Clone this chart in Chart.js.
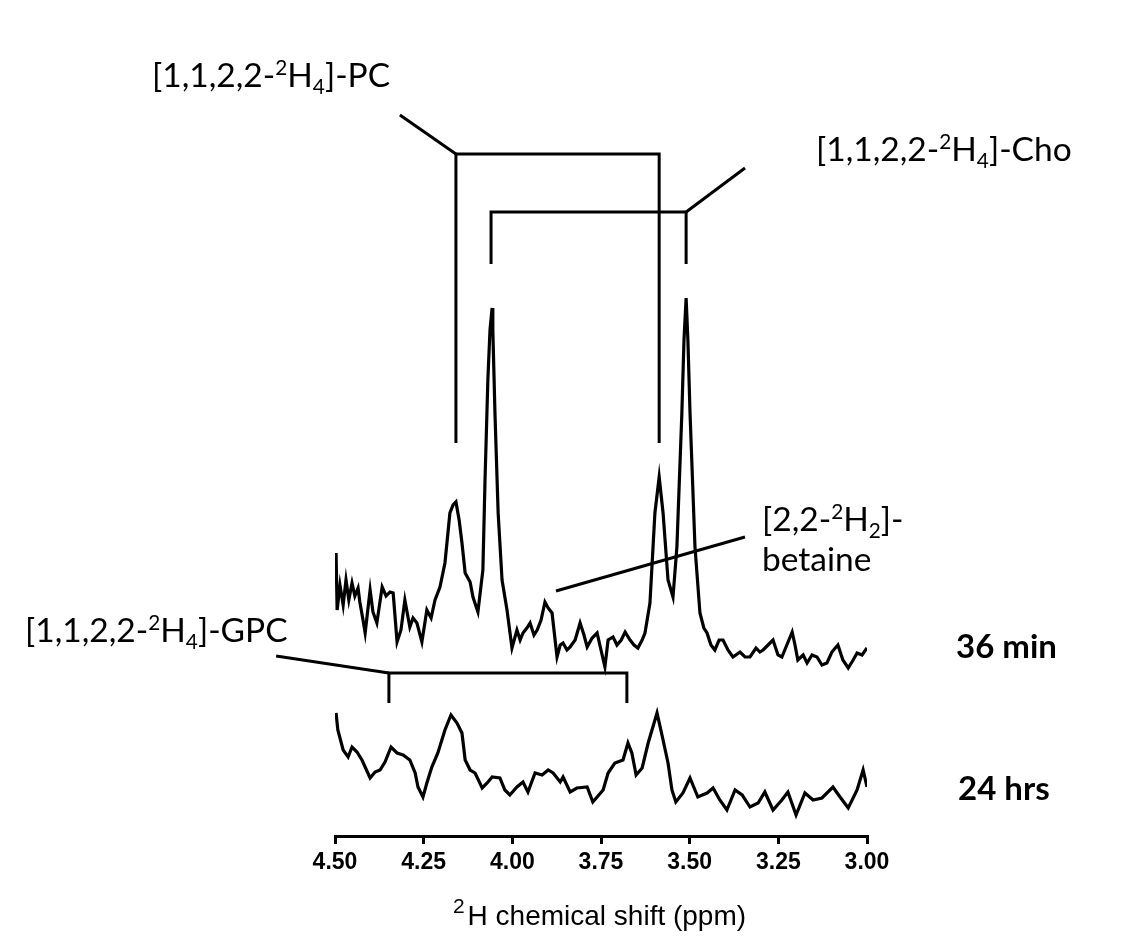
<!DOCTYPE html>
<html>
<head>
<meta charset="utf-8">
<script src="https://cdn.jsdelivr.net/npm/chart.js@4"></script>
<style>
  html, body { margin: 0; padding: 0; background: #fff; }
  #wrap { width: 1136px; height: 942px; }
</style>
</head>
<body>
<div id="wrap"><canvas id="nmr" width="1136" height="942"></canvas></div>
<script>
// 2H spectrum after 36 min (ppm / intensity, arbitrary units incl. vertical offset)
const shift36 = [4.497, 4.494, 4.486, 4.477, 4.469, 4.461, 4.452, 4.444, 4.435, 4.430, 4.421, 4.415, 4.401, 4.393, 4.382, 4.367, 4.356, 4.345, 4.336, 4.325,
  4.314, 4.303, 4.289, 4.280, 4.269, 4.255, 4.241, 4.229, 4.218, 4.204, 4.190, 4.176, 4.167, 4.159, 4.150, 4.142, 4.133, 4.119, 4.111, 4.097,
  4.083, 4.077, 4.069, 4.063, 4.057, 4.055, 4.049, 4.040, 4.029, 4.015, 4.001, 3.987, 3.978, 3.970, 3.959, 3.950, 3.939, 3.930, 3.919, 3.908,
  3.899, 3.888, 3.874, 3.865, 3.857, 3.846, 3.837, 3.823, 3.809, 3.798, 3.789, 3.775, 3.761, 3.750, 3.739, 3.730, 3.716, 3.705, 3.693, 3.682,
  3.668, 3.657, 3.646, 3.634, 3.626, 3.612, 3.598, 3.586, 3.575, 3.561, 3.547, 3.536, 3.522, 3.516, 3.510, 3.505, 3.499, 3.485, 3.471, 3.460,
  3.451, 3.440, 3.429, 3.417, 3.406, 3.392, 3.378, 3.358, 3.344, 3.330, 3.313, 3.302, 3.293, 3.279, 3.265, 3.251, 3.240, 3.226, 3.211, 3.203,
  3.195, 3.180, 3.169, 3.155, 3.141, 3.127, 3.113, 3.099, 3.082, 3.068, 3.053, 3.039, 3.028, 3.014, 3.000];
const signal36 = [283, 226, 251, 231, 256, 236, 253, 240, 248, 234, 216, 203, 246, 224, 213, 249, 240, 244, 243, 194,
  206, 236, 209, 218, 213, 194, 226, 218, 236, 249, 273, 323, 331, 334, 316, 293, 263, 254, 239, 224,
  266, 356, 456, 506, 528, 506, 423, 323, 256, 226, 188, 206, 196, 203, 208, 213, 201, 206, 216, 234,
  228, 223, 179, 191, 193, 186, 189, 196, 213, 201, 189, 198, 203, 186, 169, 196, 199, 191, 196, 204,
  196, 191, 188, 196, 203, 233, 323, 359, 323, 256, 239, 289, 423, 496, 538, 496, 423, 289, 223, 208,
  203, 191, 186, 196, 196, 186, 179, 184, 179, 179, 188, 184, 186, 191, 196, 181, 179, 191, 204, 191,
  176, 181, 173, 181, 179, 171, 173, 184, 191, 176, 168, 176, 183, 181, 188];

// 2H spectrum after 24 hrs
const shift24 = [4.497, 4.492, 4.477, 4.463, 4.452, 4.438, 4.424, 4.401, 4.387, 4.373, 4.359, 4.342, 4.325, 4.308, 4.289, 4.274, 4.266, 4.252, 4.241, 4.227,
  4.210, 4.190, 4.173, 4.156, 4.142, 4.133, 4.119, 4.105, 4.085, 4.071, 4.057, 4.035, 4.021, 4.007, 3.987, 3.970, 3.956, 3.936, 3.916, 3.899,
  3.885, 3.865, 3.857, 3.837, 3.818, 3.789, 3.773, 3.744, 3.730, 3.711, 3.688, 3.674, 3.663, 3.651, 3.634, 3.617, 3.592, 3.575, 3.561, 3.550,
  3.539, 3.519, 3.499, 3.477, 3.451, 3.434, 3.415, 3.395, 3.372, 3.352, 3.330, 3.307, 3.288, 3.265, 3.240, 3.223, 3.200, 3.175, 3.152, 3.127,
  3.096, 3.076, 3.053, 3.028, 3.011, 3.000];
const signal24 = [123, 106, 86, 79, 89, 84, 76, 58, 64, 66, 74, 89, 83, 81, 76, 63, 49, 39, 53, 69,
  83, 106, 121, 113, 103, 76, 66, 63, 48, 53, 59, 58, 46, 41, 49, 54, 44, 63, 61, 66,
  63, 54, 59, 44, 48, 49, 34, 46, 63, 73, 76, 93, 83, 61, 68, 93, 123, 96, 73, 46,
  34, 43, 58, 39, 43, 48, 36, 26, 46, 41, 29, 33, 44, 26, 36, 44, 21, 43, 36, 38,
  49, 39, 28, 46, 66, 49];

const xTicks = [4.50, 4.25, 4.00, 3.75, 3.50, 3.25, 3.00];

const LABEL_FONT = 'Lato, "Open Sans", sans-serif';
const AXIS_FONT = '"Liberation Sans", Arial, sans-serif';

// text with super/subscript parts: [text, 'sup'|'sub'|undefined]
function richText(ctx, parts, x, y, size, weight) {
  let cx = x;
  parts.forEach(([t, kind]) => {
    let s = size, dy = 0;
    if (kind === 'sup') { s = size * 0.62; dy = -size * 0.36; }
    if (kind === 'sub') { s = size * 0.62; dy = size * 0.2; }
    ctx.font = (weight || '') + ' ' + s + 'px ' + LABEL_FONT;
    ctx.fillText(t, cx, y + dy);
    cx += ctx.measureText(t).width;
  });
}

const annotations = {
  id: 'annotations',
  afterDraw(chart) {
    const ctx = chart.ctx;
    const X = v => chart.scales.x.getPixelForValue(v);
    const Y = v => chart.scales.y.getPixelForValue(v);
    ctx.save();
    ctx.strokeStyle = '#000';
    ctx.lineWidth = 3;
    ctx.lineCap = 'butt';
    const path = pts => {
      ctx.beginPath();
      pts.forEach(([a, b], i) => i ? ctx.lineTo(X(a), Y(b)) : ctx.moveTo(X(a), Y(b)));
      ctx.stroke();
    };
    // PC bracket
    path([[4.159, 393], [4.159, 682], [3.586, 682], [3.586, 393]]);
    path([[4.159, 682], [4.317, 721]]);
    // Cho bracket
    path([[4.060, 572], [4.060, 624], [3.510, 624], [3.510, 572]]);
    path([[3.510, 624], [3.344, 668]]);
    // betaine pointer
    path([[3.877, 245], [3.344, 299]]);
    // GPC bracket
    path([[4.348, 133], [4.348, 163], [3.677, 163], [3.677, 133]]);
    path([[4.348, 163], [4.666, 180]]);

    ctx.fillStyle = '#000';
    ctx.textBaseline = 'alphabetic';
    ctx.textAlign = 'left';
    richText(ctx, [['[1,1,2,2-'], ['2', 'sup'], ['H'], ['4', 'sub'], [']-PC']], 152, 87, 33.5);
    richText(ctx, [['[1,1,2,2-'], ['2', 'sup'], ['H'], ['4', 'sub'], [']-Cho']], 816, 161, 33.5);
    richText(ctx, [['[2,2-'], ['2', 'sup'], ['H'], ['2', 'sub'], [']-']], 762, 531, 33.5);
    richText(ctx, [['betaine']], 762, 571, 33.5);
    richText(ctx, [['[1,1,2,2-'], ['2', 'sup'], ['H'], ['4', 'sub'], [']-GPC']], 25, 642, 33.5);
    richText(ctx, [['36 min']], 956, 658, 33, 'bold');
    richText(ctx, [['24 hrs']], 958, 800, 33, 'bold');

    // axis title with superscript 2
    const rest = 'H chemical shift (ppm)';
    ctx.font = '21px ' + AXIS_FONT;
    const w2 = ctx.measureText('2').width;
    ctx.font = '28px ' + AXIS_FONT;
    const wr = ctx.measureText(rest).width;
    const cx = (chart.chartArea.left + chart.chartArea.right) / 2 - (w2 + wr) / 2 - 3;
    ctx.font = '21px ' + AXIS_FONT;
    ctx.fillText('2', cx, 913);
    ctx.font = '28px ' + AXIS_FONT;
    ctx.fillText(rest, cx + w2 + 3, 925);
    ctx.restore();
  }
};

new Chart(document.getElementById('nmr'), {
  type: 'line',
  data: {
    datasets: [
      {
        label: '36 min',
        data: shift36.map((v, i) => ({ x: v, y: signal36[i] })),
        borderColor: '#000',
        borderWidth: 3.2,
        pointRadius: 0,
        tension: 0,
        fill: false
      },
      {
        label: '24 hrs',
        data: shift24.map((v, i) => ({ x: v, y: signal24[i] })),
        borderColor: '#000',
        borderWidth: 3.2,
        pointRadius: 0,
        tension: 0,
        fill: false
      }
    ]
  },
  options: {
    responsive: false,
    animation: false,
    layout: { padding: { left: 335, right: 269, top: 36, bottom: 0 } },
    plugins: { legend: { display: false }, tooltip: { enabled: false } },
    scales: {
      x: {
        type: 'linear',
        min: 3.0,
        max: 4.5,
        reverse: true,
        afterBuildTicks: s => { s.ticks = xTicks.map(v => ({ value: v })); },
        afterFit: s => { s.height = 106; },
        grid: { display: true, drawOnChartArea: false, drawTicks: true, tickLength: 8, color: '#000', lineWidth: 3 },
        border: { display: true, color: '#000', width: 3 },
        ticks: {
          color: '#000',
          padding: 5,
          maxRotation: 0,
          autoSkip: false,
          font: { family: AXIS_FONT, size: 23, weight: 'bold' },
          callback: v => Number(v).toFixed(2)
        }
      },
      y: {
        display: false,
        min: 0,
        max: 800
      }
    }
  },
  plugins: [annotations]
});
</script>
</body>
</html>
